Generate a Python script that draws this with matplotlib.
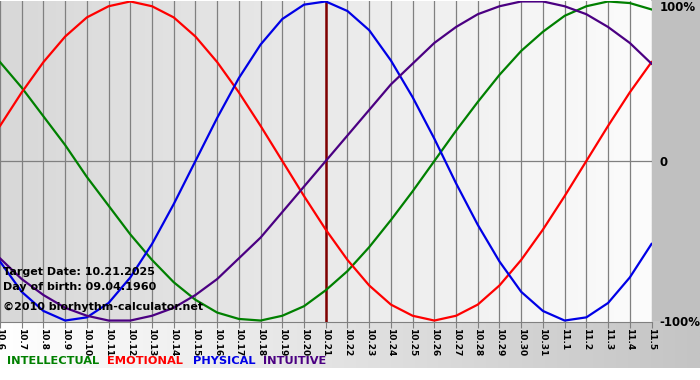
import numpy as np
import matplotlib.pyplot as plt
from matplotlib.colors import LinearSegmentedColormap

# days shown on the chart (10.6.2025 - 11.5.2025)
days = ["10.6", "10.7", "10.8", "10.9", "10.10", "10.11", "10.12", "10.13", "10.14",
        "10.15", "10.16", "10.17", "10.18", "10.19", "10.20", "10.21", "10.22", "10.23",
        "10.24", "10.25", "10.26", "10.27", "10.28", "10.29", "10.30", "10.31",
        "11.1", "11.2", "11.3", "11.4", "11.5"]

# values per day, -1 .. 1
intellectual = [0.62, 0.46, 0.28, 0.10, -0.10, -0.28, -0.46, -0.62, -0.76, -0.87, -0.95,
                -0.99, -1.00, -0.97, -0.91, -0.81, -0.69, -0.54, -0.37, -0.19, 0.00,
                0.19, 0.37, 0.54, 0.69, 0.81, 0.91, 0.97, 1.00, 0.99, 0.95]
emotional = [0.22, 0.43, 0.62, 0.78, 0.90, 0.97, 1.00, 0.97, 0.90, 0.78, 0.62,
             0.43, 0.22, 0.00, -0.22, -0.43, -0.62, -0.78, -0.90, -0.97, -1.00,
             -0.97, -0.90, -0.78, -0.62, -0.43, -0.22, 0.00, 0.22, 0.43, 0.62]
physical = [-0.63, -0.82, -0.94, -1.00, -0.98, -0.89, -0.73, -0.52, -0.27, 0.00, 0.27,
            0.52, 0.73, 0.89, 0.98, 1.00, 0.94, 0.82, 0.63, 0.40, 0.14,
            -0.14, -0.40, -0.63, -0.82, -0.94, -1.00, -0.98, -0.89, -0.73, -0.52]
intuitive = [-0.61, -0.74, -0.84, -0.92, -0.97, -1.00, -1.00, -0.97, -0.92, -0.84, -0.74,
             -0.61, -0.48, -0.32, -0.16, 0.00, 0.16, 0.32, 0.48, 0.61, 0.74,
             0.84, 0.92, 0.97, 1.00, 1.00, 0.97, 0.92, 0.84, 0.74, 0.61]
target_day = "10.21"
yticks = [1, 0, -1]
ylabels = ["100%", "0", "-100%"]

series = [("INTELLECTUAL", intellectual, "#008000"),
          ("EMOTIONAL", emotional, "#ff0000"),
          ("PHYSICAL", physical, "#0000e6"),
          ("INTUITIVE", intuitive, "#4b0082")]

W, H = 700, 380
fig = plt.figure(figsize=(7, 3.8), dpi=100)

# backgrounds (figure pixels)
bg = fig.add_axes([0, 0, 1, 1])
bg.axis('off')
grad = np.linspace(0, 1, 256).reshape(1, -1)
bg.imshow(grad, extent=[0, W, 368, 321], aspect='auto',
          cmap=LinearSegmentedColormap.from_list("b", ["#ffffff", "#c4c4c4"]))
bg.fill_between([651, W], 0, 321, color="#c0c0c0", lw=0)
bg.set_xlim(0, W)
bg.set_ylim(H, 0)

# plot area: pixels x 0..651, y 1..321
ax = fig.add_axes([0, 1 - 321.5 / H, 651.5 / W, 321 / H])
n = len(days)
x = np.arange(n)
ax.imshow(grad, extent=[0, n - 1, -1.006, 1.006], aspect='auto', zorder=0,
          cmap=LinearSegmentedColormap.from_list("p", ["#d8d8d8", "#fcfcfc"]))
ax.set_xlim(0, n - 1)
ax.set_ylim(-1.006, 1.006)

for i in x:
    ax.axvline(i, color="#808080", lw=0.9, zorder=1)
ax.axhline(0, color="#808080", lw=0.9, zorder=1)
ax.axvline(days.index(target_day), color="#800000", lw=1.8, zorder=3)

for name, vals, col in series:
    ax.plot(x, vals, color=col, lw=1.6, zorder=4, solid_joinstyle='round')

for s in ax.spines.values():
    s.set_visible(False)
ax.spines['bottom'].set_visible(True)
ax.spines['bottom'].set_color("#808080")

ax.set_xticks(x)
ax.set_xticklabels(days, rotation=-90, fontsize=6.5, fontweight='bold')
ax.tick_params(axis='x', length=4, color="#808080", pad=1)
ax.yaxis.tick_right()
ax.set_yticks(yticks)
ax.set_yticklabels(ylabels, fontsize=8.5, fontweight='bold')
ax.tick_params(axis='y', length=0, pad=6)
ax.get_yticklabels()[0].set_va('top')

info = [("Target Date: 10.21.2025", 0.154),
        ("Day of birth: 09.04.1960", 0.107),
        ("\u00a92010 biorhythm-calculator.net", 0.045)]
for txt, fy in info:
    ax.text(0.004, fy, txt, transform=ax.transAxes, fontsize=8,
            fontweight='bold', va='center', zorder=5)

# legend words under the chart
lx = [7, 107, 193, 263]
for (name, vals, col), px in zip(series, lx):
    fig.text(px / W, 1 - 361 / H, name, color=col, fontsize=8.2,
             fontweight='bold', va='center')

fig.savefig("out.png", dpi=100)
